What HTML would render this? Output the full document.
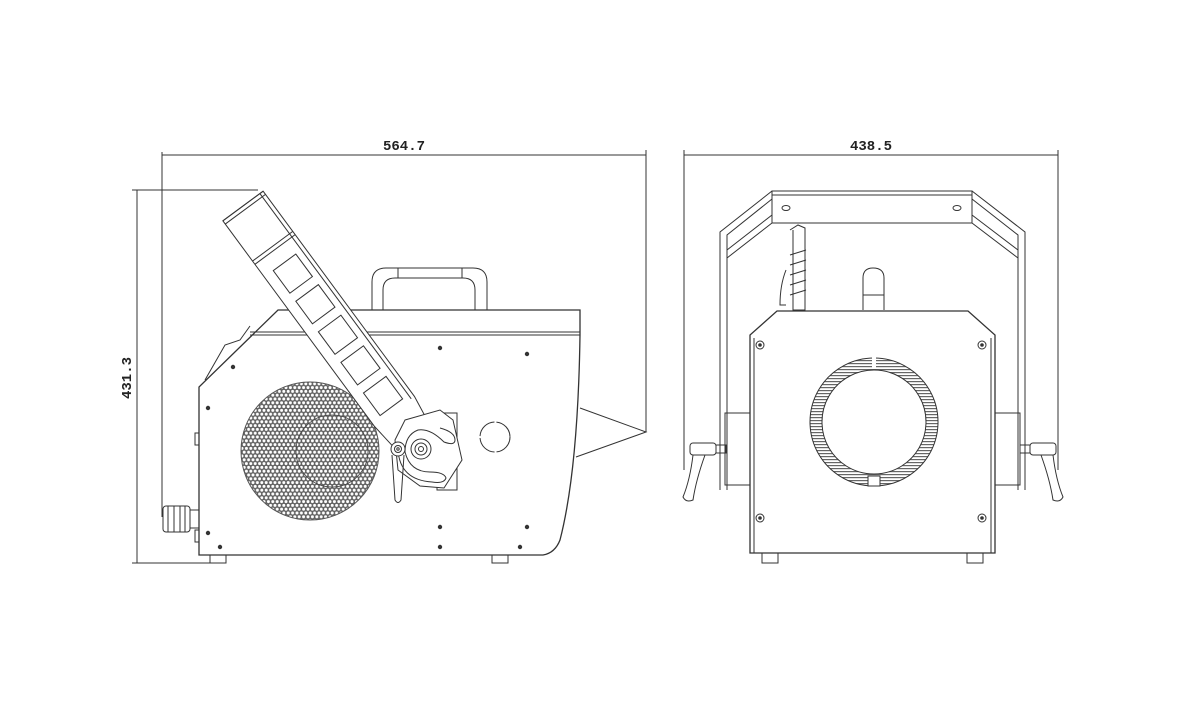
<!DOCTYPE html>
<html><head><meta charset="utf-8"><style>
html,body{margin:0;padding:0;background:#fff;}
svg{display:block}
text{font-family:"Liberation Mono",monospace;font-weight:bold;font-size:14px;fill:#222}
</style></head><body>
<svg width="1200" height="710" viewBox="0 0 1200 710" xmlns="http://www.w3.org/2000/svg">
<defs>
<pattern id="hex" width="4.4" height="7.6" patternUnits="userSpaceOnUse">
<rect width="4.4" height="7.6" fill="#606060"/>
<circle cx="0" cy="0" r="1.5" fill="#fff"/><circle cx="4.4" cy="0" r="1.5" fill="#fff"/>
<circle cx="2.2" cy="3.8" r="1.5" fill="#fff"/>
<circle cx="0" cy="7.6" r="1.5" fill="#fff"/><circle cx="4.4" cy="7.6" r="1.5" fill="#fff"/>
</pattern>
<pattern id="hl" width="4" height="3" patternUnits="userSpaceOnUse">
<rect width="4" height="3" fill="#fff"/><rect y="0" width="4" height="1.2" fill="#666"/>
</pattern>
</defs>
<g fill="none" stroke="#333" stroke-width="1">
<line x1="162" y1="155" x2="646" y2="155"/>
<line x1="162" y1="152" x2="162" y2="517"/>
<line x1="646" y1="150" x2="646" y2="432"/>
<line x1="137" y1="190" x2="137" y2="563"/>
<line x1="132" y1="190" x2="258" y2="190"/>
<line x1="132" y1="563" x2="212" y2="563"/>
<line x1="684" y1="155" x2="1058" y2="155"/>
<line x1="684" y1="150" x2="684" y2="470"/>
<line x1="1058" y1="150" x2="1058" y2="470"/>

<path d="M372 310 V282 Q372 268 386 268 H473 Q487 268 487 282 V310"/>
<path d="M383 310 V290 Q383 278 395 278 H463 Q475 278 475 290 V310"/>
<line x1="398" y1="268" x2="398" y2="278"/><line x1="462" y1="268" x2="462" y2="278"/>
<path d="M278 310 H580 V335 Q578 470 560 540 Q555 553 543 555 H199 V387 Z" stroke-width="1.3"/>
<line x1="250" y1="335" x2="580" y2="335"/>
<line x1="250" y1="332" x2="580" y2="332"/>
<path d="M205 380 L225 345 L240 340 L250 326"/>
<rect x="210" y="555" width="16" height="8"/><rect x="492" y="555" width="16" height="8"/>
<path d="M580 408 L646 432 L576 457"/>
<path d="M199 433 h-4 v12 h4"/><path d="M199 530 h-4 v12 h4"/>
<rect x="163" y="506" width="27" height="26" rx="3"/>
<line x1="168" y1="506" x2="168" y2="532"/><line x1="174" y1="506" x2="174" y2="532"/><line x1="180" y1="506" x2="180" y2="532"/><line x1="185" y1="506" x2="185" y2="532"/>
<rect x="190" y="510" width="9" height="18"/>
<circle cx="310" cy="451" r="69" fill="url(#hex)" stroke="#555"/>
<circle cx="332" cy="451" r="36" stroke="#444" stroke-width="0.8"/>
<rect x="437" y="413" width="20" height="77" fill="#fff"/>
<g transform="translate(243,206) rotate(53.6)">
<path d="M0 -25 H255 L290 -20 L300 20 L255 25 H0 Z" fill="#fff"/>
<line x1="0" y1="-21" x2="255" y2="-21"/>
<line x1="0" y1="-25" x2="0" y2="25"/><line x1="4" y1="-25" x2="4" y2="25"/>
<line x1="50" y1="-25" x2="50" y2="25"/><line x1="54" y1="-25" x2="54" y2="25"/>
<rect x="70" y="-14" width="28" height="28"/>
<rect x="108" y="-14" width="28" height="28"/>
<rect x="146" y="-14" width="28" height="28"/>
<rect x="184" y="-14" width="28" height="28"/>
<rect x="222" y="-14" width="28" height="28"/>
</g>
<path d="M405 420 L440 410 L453 420 L462 460 L444 488 L420 486 L398 470 L395 440 Z" fill="#fff"/>
<path d="M440 428 Q455 432 455 440 Q455 446 444 442 Q430 428 418 430 Q405 435 405 452 Q410 472 430 472 Q444 472 446 478 Q444 484 432 482 Q400 480 398 450"/>
<circle cx="421" cy="449" r="10"/><circle cx="421" cy="449" r="6"/><circle cx="421" cy="449" r="2.5"/>
<path d="M392 455 L395 500 Q398 505 401 500 L404 455"/>
<circle cx="398" cy="449" r="7" fill="#fff"/><circle cx="398" cy="449" r="3.5"/><circle cx="398" cy="449" r="1.2"/>
<circle cx="495" cy="437" r="15" stroke-dasharray="22 2"/>
</g>
<g fill="#333">
<circle cx="440" cy="348" r="2.2"/><circle cx="527" cy="354" r="2.2"/><circle cx="233" cy="367" r="2.2"/>
<circle cx="208" cy="408" r="2.2"/><circle cx="440" cy="527" r="2.2"/><circle cx="527" cy="527" r="2.2"/>
<circle cx="440" cy="547" r="2.2"/><circle cx="520" cy="547" r="2.2"/><circle cx="208" cy="533" r="2.2"/><circle cx="220" cy="547" r="2.2"/>
</g>

<g fill="none" stroke="#333" stroke-width="1">
<rect x="772" y="191" width="200" height="32"/>
<line x1="772" y1="195" x2="972" y2="195"/>
<ellipse cx="786" cy="208" rx="4" ry="2.5"/><ellipse cx="957" cy="208" rx="4" ry="2.5"/>
<path d="M772 191 L720 232 V490 M772 199 L727 235 V490 M772 215 L727 250 M772 223 L727 258"/>
<path d="M972 191 L1025 232 V490 M972 199 L1018 235 V490 M972 215 L1018 250 M972 223 L1018 258"/>
<rect x="725" y="413" width="25" height="72"/><rect x="995" y="413" width="25" height="72"/>
<rect x="690" y="443" width="26" height="12" rx="3"/><rect x="716" y="445" width="10" height="8"/>
<path d="M693 455 Q690 480 683 497 Q686 503 693 500 Q696 480 705 455"/>
<rect x="1030" y="443" width="26" height="12" rx="3"/><rect x="1020" y="445" width="10" height="8"/>
<path d="M1053 455 Q1056 480 1063 497 Q1060 503 1053 500 Q1050 480 1041 455"/>
<path d="M790 230 L798 225 L805 228 L805 310 H793 V230"/>
<path d="M786 270 Q780 285 780 305 H786"/>
<path d="M790 255 L806 250 M790 265 L806 260 M790 275 L806 270 M790 285 L806 280 M790 295 L806 290"/>
<path d="M863 310 V278 Q863 268 873 268 Q884 268 884 278 V310"/><line x1="863" y1="295" x2="884" y2="295"/>
<path d="M777 311 H968 L995 335 V553 H750 V335 Z" fill="#fff" stroke-width="1.3"/>
<line x1="754" y1="338" x2="754" y2="553"/><line x1="991" y1="338" x2="991" y2="553"/>
<rect x="762" y="553" width="16" height="10"/><rect x="967" y="553" width="16" height="10"/>
<path d="M874 358 a64 64 0 1 0 0.01 0 Z M874 370 a52 52 0 1 1 -0.01 0 Z" fill="url(#hl)" fill-rule="evenodd" stroke="#333"/>
<rect x="872" y="357" width="4" height="12" fill="#fff" stroke="none"/>
<rect x="868" y="476" width="12" height="10" fill="#fff"/>
<circle cx="760" cy="345" r="4"/><circle cx="982" cy="345" r="4"/><circle cx="760" cy="518" r="4"/><circle cx="982" cy="518" r="4"/>
</g>
<g fill="#333"><circle cx="760" cy="345" r="1.8"/><circle cx="982" cy="345" r="1.8"/><circle cx="760" cy="518" r="1.8"/><circle cx="982" cy="518" r="1.8"/></g>

<text x="404" y="150" text-anchor="middle">564.7</text>
<text x="871" y="150" text-anchor="middle">438.5</text>
<text x="0" y="0" text-anchor="middle" transform="translate(131,378) rotate(-90)">431.3</text>
</svg>
</body></html>
